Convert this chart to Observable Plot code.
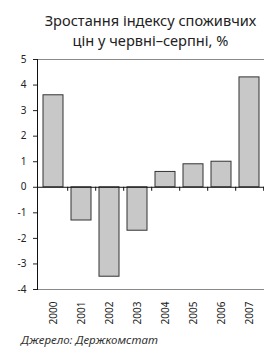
<!DOCTYPE html>
<html><head><meta charset="utf-8">
<script src="https://cdn.jsdelivr.net/npm/d3@7"></script>
<script src="https://cdn.jsdelivr.net/npm/@observablehq/plot@0.6"></script>
<style>
body{margin:0;background:#fff;width:264px;font-family:"Noto Sans",sans-serif;}
#title{position:absolute;left:37px;width:227px;top:10px;text-align:center;font-size:14.6px;line-height:20px;color:#222;}
#chart{position:absolute;left:0;top:50px;}
#src{position:absolute;left:21px;top:332px;font-size:11.5px;font-style:italic;color:#333;}
</style></head>
<body>
<div id="title">Зростання індексу споживчих<br>цін у червні–серпні, %</div>
<div id="chart"></div>
<div id="src">Джерело: Держкомстат</div>
<script>
const years = ["2000","2001","2002","2003","2004","2005","2006","2007"];
const values = [3.6, -1.3, -3.5, -1.7, 0.6, 0.9, 1.0, 4.3];
const yTicks = [-4,-3,-2,-1,0,1,2,3,4,5];
const data = years.map((y,i)=>({year:y, value:values[i]}));
const W = 264, mL = 37, mR = 0;
const step = (W - mL - mR) / years.length;
const plot = Plot.plot({
  width: W, height: 281,
  marginLeft: mL, marginRight: mR, marginTop: 9, marginBottom: 42,
  style: {fontFamily: '"Noto Sans", sans-serif', fontSize: "10px", color: "#222", background: "#fff"},
  x: {domain: years, paddingInner: 0.3, paddingOuter: 0.15, label: null},
  y: {domain: [-4, 5], ticks: yTicks, label: null},
  marks: [
    Plot.ruleY([5, -4], {stroke: "#8a8a8a", strokeWidth: 1.2}),
    Plot.barY(data, {x: "year", y: "value", fill: "#c8c8c8", stroke: "#333", strokeWidth: 1}),
    Plot.ruleY([0], {stroke: "#111"}),
    Plot.ruleX(years, {x: d => d, dx: step/2, y1: 0, y2: 0, insetBottom: -4, stroke: "#111"}),
    Plot.frame({anchor: "left", stroke: "#111"}),
    Plot.axisY({ticks: yTicks, tickSize: 4, tickPadding: 7, tickFormat: d => d}),
    Plot.axisX({tickSize: 0, tickRotate: -90, tickPadding: 12})
  ]
});
document.getElementById("chart").appendChild(plot);
</script>
</body></html>
